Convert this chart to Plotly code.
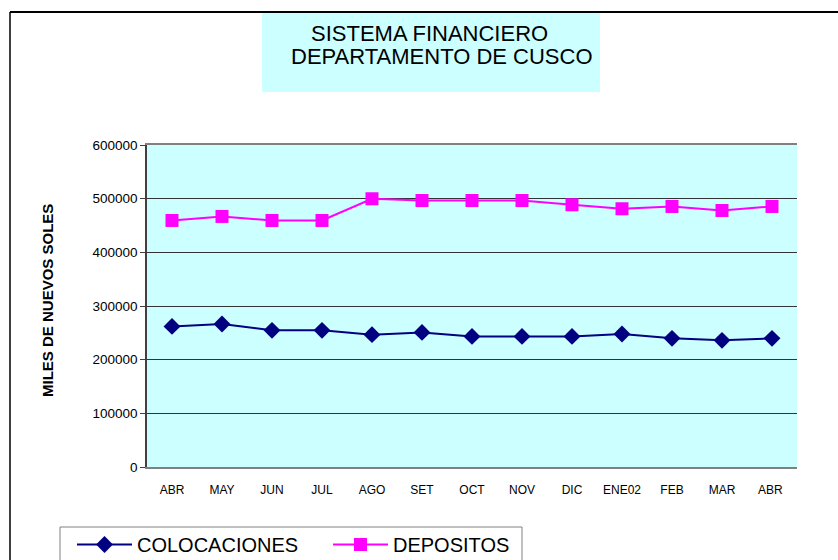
import plotly.graph_objects as go

months = ["ABR", "MAY", "JUN", "JUL", "AGO", "SET", "OCT", "NOV", "DIC", "ENE02", "FEB", "MAR", "ABR "]
colocaciones = [262000, 266500, 254600, 254600, 246600, 250800, 243400, 243400, 243400, 247900, 239700, 236000, 239700]
depositos = [459400, 466900, 459400, 459400, 499800, 496600, 496600, 496600, 488600, 481200, 485500, 478000, 485500]
y_ticks = [0, 100000, 200000, 300000, 400000, 500000, 600000]

W, H = 838, 560
L, R, T, B = 147, 797, 145, 467

def px(x):
    return (x - L) / (R - L)

def py(y):
    return (B - y) / (B - T)

fig = go.Figure()
fig.add_trace(go.Scatter(
    x=months, y=colocaciones, name="COLOCACIONES", mode="lines+markers",
    line=dict(color="#000080", width=2),
    marker=dict(symbol="diamond", size=13, color="#000080"),
))
fig.add_trace(go.Scatter(
    x=months, y=depositos, name="DEPOSITOS", mode="lines+markers",
    line=dict(color="#FF00FF", width=2),
    marker=dict(symbol="square", size=13, color="#FF00FF"),
))

shapes = [
    # outer frame
    dict(type="line", xref="paper", yref="paper", x0=px(10), x1=px(W + 5), y0=py(12), y1=py(12),
         line=dict(color="#000000", width=2)),
    dict(type="line", xref="paper", yref="paper", x0=px(10), x1=px(10), y0=py(12), y1=py(H + 5),
         line=dict(color="#000000", width=1.5)),
    # title box
    dict(type="rect", xref="paper", yref="paper", x0=px(262), x1=px(600), y0=py(92), y1=py(13),
         fillcolor="#CCFFFF", line=dict(width=0), layer="below"),
    # legend box
    dict(type="rect", xref="paper", yref="paper", x0=px(60), x1=px(522), y0=py(H + 5), y1=py(527),
         fillcolor="rgba(0,0,0,0)", line=dict(color="#808080", width=1)),
]

annotations = [
    dict(text="SISTEMA FINANCIERO", xref="paper", yref="paper", x=px(429), y=py(33),
         xanchor="center", yanchor="middle", showarrow=False,
         font=dict(family="Liberation Sans, Arial", size=22, color="#000000")),
    dict(text="DEPARTAMENTO DE CUSCO", xref="paper", yref="paper", x=px(442), y=py(57),
         xanchor="center", yanchor="middle", showarrow=False,
         font=dict(family="Liberation Sans, Arial", size=22, color="#000000")),
    dict(text="<b>MILES DE NUEVOS SOLES</b>", xref="paper", yref="paper", x=px(47), y=py(301),
         xanchor="center", yanchor="middle", showarrow=False, textangle=-90,
         font=dict(family="Liberation Sans, Arial", size=15, color="#000000")),
]

fig.update_layout(
    width=W, height=H,
    margin=dict(l=L, r=W - R, t=T, b=H - B, pad=0, autoexpand=False),
    paper_bgcolor="#FFFFFF",
    plot_bgcolor="#CCFFFF",
    shapes=shapes,
    annotations=annotations,
    showlegend=True,
    legend=dict(
        orientation="h", x=px(72), y=py(525), xanchor="left", yanchor="top",
        borderwidth=0, bgcolor="rgba(0,0,0,0)",
        font=dict(family="Liberation Sans, Arial", size=20, color="#000000"),
        entrywidth=186, entrywidthmode="pixels", itemwidth=55,
    ),
    xaxis=dict(
        type="category", range=[-0.5, 12.5], showgrid=False, zeroline=False,
        showline=True, linecolor="#808080", linewidth=2, mirror=True,
        ticks="", tickfont=dict(family="Liberation Sans, Arial", size=12, color="#000000"),
        ticklabelstandoff=11,
    ),
    yaxis=dict(
        range=[0, 600000], tickvals=y_ticks,
        showgrid=True, gridcolor="#333333", gridwidth=1, zeroline=False,
        showline=True, linecolor="#404040", linewidth=1.5, mirror=False,
        ticks="outside", ticklen=5, tickcolor="#404040",
        tickfont=dict(family="Liberation Sans, Arial", size=13.5, color="#000000"),
        tickformat="d",
    ),
)

fig.write_html("out.html", config={"displayModeBar": False},
               post_script="document.body.style.margin='0';document.body.style.overflow='hidden';")
